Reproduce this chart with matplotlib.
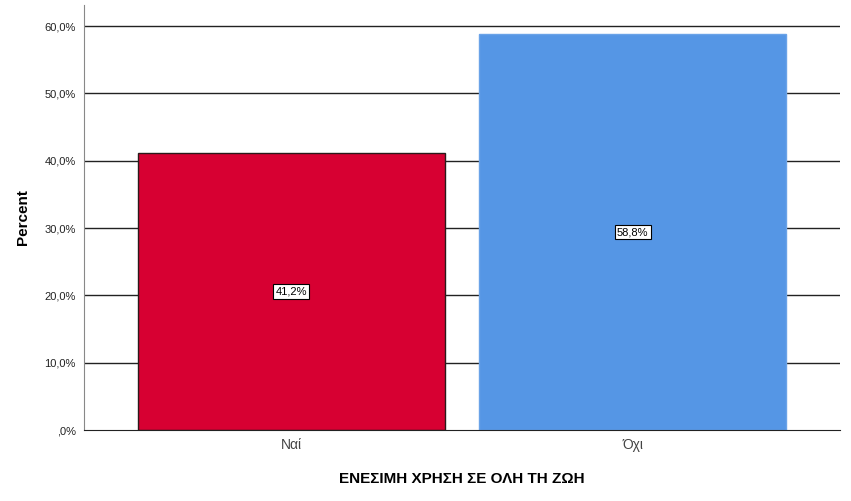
import matplotlib
matplotlib.use("Agg")
import matplotlib.pyplot as plt

plt.rcParams['font.family'] = ['Liberation Sans', 'DejaVu Sans']

categories = ["Ναί", "Όχι"]
percents = [41.2, 58.8]
bar_colors = ["#D70032", "#5596E5"]
edge_colors = ["#2a1a1a", "#6aa3e8"]
yticks = [0, 10, 20, 30, 40, 50, 60]
ytick_labels = [",0%", "10,0%", "20,0%", "30,0%", "40,0%", "50,0%", "60,0%"]

fig = plt.figure(figsize=(8.51, 5.01), dpi=100)
ax = fig.add_axes([84 / 851, 1 - 430 / 501, (840 - 84) / 851, (430 - 5) / 501])

for y in yticks[1:]:
    ax.axhline(y, color="#222222", lw=1.0, zorder=1)

xs = range(len(categories))
ax.bar(xs, percents, width=0.9, color=bar_colors, edgecolor=edge_colors,
       linewidth=1.0, zorder=2)

# value labels in white boxes, half way up each bar
for x, v in zip(xs, percents):
    ax.text(x, v / 2, f"{v:.1f}%".replace(".", ","), ha="center", va="center",
            fontsize=8, zorder=3,
            bbox=dict(boxstyle="square,pad=0.2", fc="white", ec="black", lw=0.8))

ax.set_xlim(-0.607, 1.607)
ax.set_ylim(0, 60 * 425 / 404)
ax.set_yticks(yticks)
ax.set_yticklabels(ytick_labels, fontsize=8, color="#222222")
ax.set_xticks(list(xs))
ax.set_xticklabels(categories, fontsize=10, color="#444444")
ax.tick_params(axis="both", length=0)
ax.tick_params(axis="y", pad=6)
ax.tick_params(axis="x", pad=6)

for side in ["top", "right"]:
    ax.spines[side].set_visible(False)
ax.spines["left"].set_color("#888888")
ax.spines["bottom"].set_color("#222222")
ax.spines["bottom"].set_zorder(4)

ax.set_ylabel("Percent", fontsize=11, fontweight="bold", labelpad=10)
ax.set_xlabel("ΕΝΕΣΙΜΗ ΧΡΗΣΗ ΣΕ ΟΛΗ ΤΗ ΖΩΗ", fontsize=11, fontweight="bold", labelpad=14)

fig.savefig("out.png", dpi=100)
